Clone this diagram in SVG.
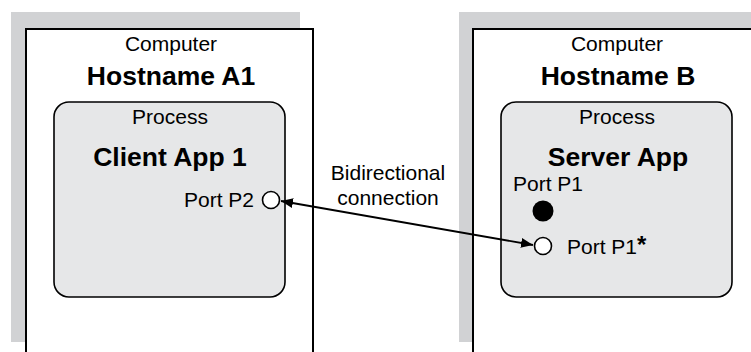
<svg xmlns="http://www.w3.org/2000/svg" width="751" height="352" viewBox="0 0 751 352">
<style>
.shadow{fill:#d1d2d4;stroke:none}
.computer{fill:#ffffff;stroke:#000;stroke-width:2}
.process{fill:#e6e7e8;stroke:#000;stroke-width:1.6}
.t{font-family:"Liberation Sans",Arial,sans-serif;fill:#000}
.n{font-size:21px}
.b{font-size:26.5px;font-weight:bold}
.port{fill:#fff;stroke:#000;stroke-width:1.6}
.conn{stroke:#000;stroke-width:1.8;fill:none}
</style>
<defs>
<marker id="ah" viewBox="0 0 12 10" refX="12" refY="5" markerWidth="12" markerHeight="10" markerUnits="userSpaceOnUse" orient="auto-start-reverse">
<path d="M0,0 L12,5 L0,10 z" fill="#000"/>
</marker>
</defs>
<g id="computer-a">
<rect class="shadow" x="11" y="12" width="289" height="330"/>
<rect class="computer" x="26" y="29" width="287" height="330"/>
<text class="t n" x="171" y="51" text-anchor="middle">Computer</text>
<text class="t b" x="171" y="85" text-anchor="middle">Hostname A1</text>
</g>
<g id="process-a">
<rect class="process" x="54" y="102" width="231" height="195" rx="15" ry="15"/>
<text class="t n" x="170" y="124" text-anchor="middle">Process</text>
<text class="t b" x="170" y="166" text-anchor="middle">Client App 1</text>
<text class="t n" x="254" y="207" text-anchor="end">Port P2</text>
<circle class="port" cx="271" cy="200" r="8.5"/>
</g>
<g id="computer-b">
<rect class="shadow" x="459" y="12" width="300" height="330"/>
<rect class="computer" x="473" y="29" width="300" height="330"/>
<text class="t n" x="617" y="51" text-anchor="middle">Computer</text>
<text class="t b" x="618" y="85" text-anchor="middle">Hostname B</text>
</g>
<g id="process-b">
<rect class="process" x="501" y="102" width="231" height="195" rx="15" ry="15"/>
<text class="t n" x="617" y="124" text-anchor="middle">Process</text>
<text class="t b" x="618" y="166" text-anchor="middle">Server App</text>
<text class="t n" x="513" y="191">Port P1</text>
<circle cx="543" cy="211" r="10.5" fill="#000"/>
<circle class="port" cx="543" cy="246" r="8.5"/>
<text class="t n" x="567" y="254">Port P1<tspan font-weight="bold" font-size="24" dy="-1">*</tspan></text>
</g>
<g id="connectors">
<line class="conn" x1="281" y1="201" x2="533" y2="245" marker-start="url(#ah)" marker-end="url(#ah)"/>
<text class="t n" x="388" y="180" text-anchor="middle">Bidirectional</text>
<text class="t n" x="388" y="205" text-anchor="middle">connection</text>
</g>
</svg>
